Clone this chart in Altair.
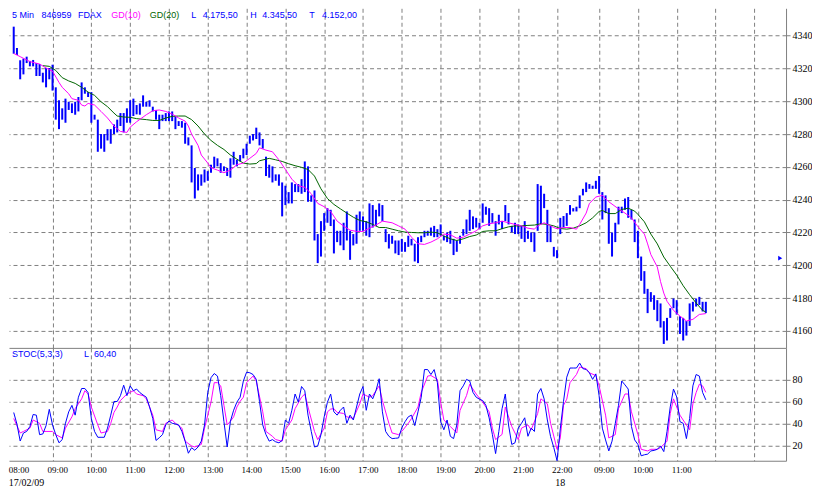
import altair as alt
import pandas as pd

# ---------------- data ----------------
high = [
    4345.5, 4332.5, 4325.0, 4326.0, 4327.2, 4324.6, 4325.2, 4323.3, 4322.7, 4317.4,
    4320.3, 4320.3, 4322.3, 4308.5, 4300.6, 4295.7, 4301.6, 4299.7, 4298.7, 4299.7,
    4302.6, 4311.5, 4308.5, 4305.6, 4305.6, 4291.8, 4288.8, 4280.0, 4280.0, 4283.0,
    4283.0, 4285.9, 4288.8, 4292.8, 4292.8, 4295.7, 4300.6, 4301.6, 4297.7, 4298.7,
    4303.6, 4299.7, 4300.6, 4296.7, 4294.7, 4291.8, 4291.8, 4292.8, 4293.8, 4293.8,
    4290.8, 4287.9, 4287.9, 4286.9, 4278.0, 4273.1, 4259.3, 4255.4, 4255.4, 4258.4,
    4257.4, 4261.3, 4266.2, 4265.2, 4262.3, 4260.3, 4259.3, 4265.2, 4269.2, 4264.3,
    4267.2, 4271.1, 4274.1, 4279.0, 4280.0, 4283.9, 4281.0, 4277.0, 4266.2, 4261.3,
    4260.3, 4255.4, 4255.4, 4250.5, 4248.5, 4244.6, 4250.5, 4249.5, 4249.5, 4252.5,
    4263.3, 4260.3, 4242.6, 4245.6, 4219.0, 4226.9, 4231.8, 4234.8, 4233.8, 4227.9,
    4221.0, 4221.0, 4225.9, 4232.8, 4221.0, 4219.0, 4230.8, 4232.8, 4229.8, 4226.9,
    4237.7, 4236.7, 4233.8, 4237.7, 4236.7, 4222.0, 4219.0, 4218.0, 4215.1, 4215.1,
    4216.1, 4214.1, 4218.0, 4216.1, 4213.1, 4217.1, 4218.0, 4221.0, 4221.0, 4223.0,
    4224.0, 4222.0, 4224.9, 4218.0, 4220.0, 4221.0, 4216.1, 4215.1, 4218.0, 4222.0,
    4227.9, 4233.8, 4229.8, 4228.9, 4225.9, 4237.7, 4235.7, 4234.8, 4231.8, 4226.9,
    4230.8, 4226.9, 4236.7, 4231.8, 4224.0, 4225.9, 4224.9, 4224.0, 4226.9, 4221.0,
    4220.0, 4220.0, 4249.5, 4248.5, 4243.6, 4233.8, 4224.0, 4211.2, 4209.2, 4228.9,
    4230.0, 4231.8, 4236.7, 4234.8, 4235.7, 4242.6, 4246.6, 4250.5, 4249.5, 4248.5,
    4251.5, 4254.4, 4244.6, 4242.6, 4234.8, 4220.0, 4225.9, 4235.7, 4235.7, 4240.7,
    4241.6, 4233.8, 4227.9, 4221.0, 4205.3, 4196.4, 4185.6, 4183.6, 4181.7, 4178.7,
    4176.7, 4165.9, 4167.9, 4173.8, 4179.7, 4178.7, 4168.9, 4167.9, 4166.0, 4176.7,
    4177.7, 4179.7, 4180.7, 4177.7, 4177.7,
]
low = [
    4329.0, 4328.2, 4313.4, 4316.4, 4323.3, 4321.3, 4321.3, 4315.4, 4315.4, 4311.5,
    4308.5, 4313.4, 4306.5, 4288.8, 4283.0, 4288.8, 4286.9, 4294.7, 4292.8, 4291.8,
    4293.8, 4300.6, 4304.6, 4302.6, 4286.9, 4288.8, 4269.2, 4271.1, 4269.2, 4276.1,
    4274.1, 4280.0, 4281.0, 4284.9, 4281.0, 4286.9, 4286.9, 4291.0, 4292.0, 4291.8,
    4296.7, 4296.7, 4296.7, 4293.8, 4288.8, 4283.0, 4287.9, 4287.9, 4287.9, 4287.9,
    4283.0, 4284.9, 4283.9, 4274.1, 4273.1, 4250.5, 4240.7, 4245.6, 4248.5, 4250.5,
    4251.5, 4256.4, 4259.3, 4260.3, 4256.4, 4257.4, 4254.4, 4253.4, 4261.3, 4260.3,
    4263.3, 4265.2, 4267.2, 4274.1, 4276.1, 4277.0, 4273.1, 4271.1, 4254.4, 4253.4,
    4250.5, 4251.5, 4248.5, 4229.8, 4236.7, 4237.7, 4237.7, 4244.6, 4244.6, 4243.6,
    4244.6, 4238.7, 4238.7, 4215.1, 4201.3, 4205.3, 4221.0, 4225.9, 4223.9, 4207.2,
    4214.1, 4212.1, 4209.2, 4215.1, 4203.3, 4212.1, 4213.1, 4221.0, 4221.0, 4218.0,
    4217.1, 4223.0, 4223.9, 4229.8, 4226.9, 4214.1, 4210.2, 4213.1, 4207.2, 4206.2,
    4208.2, 4208.2, 4211.2, 4212.1, 4202.3, 4201.3, 4214.1, 4217.1, 4218.0, 4218.0,
    4217.1, 4217.1, 4218.0, 4215.1, 4214.1, 4213.1, 4206.2, 4208.2, 4213.1, 4218.0,
    4219.0, 4221.0, 4222.0, 4223.0, 4222.0, 4225.9, 4230.8, 4224.0, 4225.9, 4218.0,
    4224.9, 4222.0, 4226.9, 4224.9, 4220.0, 4219.0, 4219.0, 4216.1, 4214.1, 4216.1,
    4214.1, 4208.2, 4221.0, 4225.0, 4234.8, 4214.1, 4214.1, 4205.3, 4204.3, 4219.0,
    4223.0, 4224.0, 4230.8, 4232.8, 4232.8, 4234.8, 4242.6, 4244.6, 4246.6, 4246.6,
    4246.6, 4243.6, 4227.9, 4231.8, 4213.1, 4205.3, 4214.1, 4224.9, 4231.8, 4233.8,
    4228.9, 4227.9, 4214.1, 4204.3, 4190.5, 4182.6, 4170.8, 4177.7, 4172.8, 4165.9,
    4162.0, 4152.0, 4154.1, 4167.9, 4173.8, 4169.9, 4158.1, 4154.1, 4157.1, 4163.0,
    4171.8, 4174.8, 4175.8, 4171.8, 4170.8,
]

# moving averages GD(10) and GD(20): (bar index, value)
gd10_idx = [0, 2, 5, 8, 10, 11, 12, 14, 15, 17, 18, 20, 21, 22, 23, 25, 27, 29, 31, 33,
            35, 36, 38, 41, 43, 45, 47, 49, 51, 53, 54, 55, 57, 58, 60, 61, 63, 65, 67, 69,
            71, 73, 75, 76, 78, 80, 82, 84, 86, 88, 90, 92, 94, 96, 98, 100, 102, 104, 106, 108,
            110, 112, 114, 117, 119, 121, 123, 125, 127, 129, 131, 133, 135, 137, 139, 141, 143, 145, 147, 149,
            151, 153, 155, 157, 159, 161, 162, 164, 166, 167, 168, 170, 172, 174, 175, 177, 178, 180, 182, 184,
            187, 189, 191, 193, 195, 196, 197, 199, 200, 201, 202, 204, 206, 208, 210, 212, 214]
gd10_val = [4329.2, 4327.2, 4324.2, 4322.7, 4320.3, 4319.3, 4318.4, 4311.5, 4308.5, 4304.6,
            4301.6, 4300.6, 4297.7, 4297.1, 4298.7, 4297.7, 4293.8, 4289.8, 4284.9, 4281.6,
            4281.0, 4284.2, 4287.5, 4291.8, 4294.2, 4294.7, 4293.8, 4292.2, 4289.8, 4287.9,
            4284.9, 4280.0, 4273.1, 4267.2, 4262.3, 4259.5, 4258.0, 4256.4, 4258.0, 4261.3,
            4262.3, 4265.2, 4268.2, 4271.6, 4270.2, 4269.2, 4264.3, 4258.4, 4252.5, 4248.5,
            4247.5, 4243.6, 4237.7, 4235.7, 4232.8, 4226.9, 4223.9, 4221.4, 4220.6, 4220.6,
            4222.6, 4224.5, 4226.9, 4225.9, 4224.0, 4222.0, 4217.1, 4213.1, 4212.7, 4214.1,
            4216.1, 4219.0, 4218.6, 4216.5, 4217.1, 4219.0, 4221.0, 4224.0, 4225.3, 4225.9,
            4226.9, 4225.9, 4224.9, 4224.0, 4222.6, 4222.0, 4224.0, 4225.9, 4224.0, 4223.0,
            4222.3, 4223.0, 4223.0, 4222.0, 4224.9, 4231.8, 4237.7, 4241.6, 4242.6, 4238.7,
            4234.4, 4231.8, 4228.9, 4223.5, 4219.0, 4213.0, 4206.5, 4198.9, 4190.0, 4183.0,
            4178.0, 4172.5, 4169.0, 4166.0, 4167.0, 4170.0, 4170.5]
gd20_idx = [9, 11, 13, 15, 17, 19, 21, 23, 25, 27, 29, 31, 32, 34, 36, 38, 41, 43, 45, 47,
            49, 51, 53, 55, 57, 59, 61, 63, 65, 67, 69, 71, 73, 75, 76, 79, 81, 83, 85, 87,
            89, 91, 93, 95, 97, 99, 101, 103, 105, 107, 109, 111, 113, 115, 117, 119, 121, 123, 125, 127,
            129, 131, 133, 135, 137, 139, 141, 143, 145, 147, 149, 151, 153, 155, 157, 159, 161, 163, 165, 167,
            169, 171, 173, 175, 177, 179, 181, 182, 184, 186, 188, 190, 192, 193, 195, 197, 199, 201, 203, 205,
            207, 209, 211, 213, 214]
gd20_val = [4321.7, 4321.3, 4318.8, 4314.4, 4312.4, 4310.9, 4308.5, 4305.6, 4303.6, 4299.7,
            4296.7, 4292.8, 4291.0, 4290.4, 4290.2, 4289.4, 4288.8, 4288.3, 4288.3, 4289.8,
            4290.8, 4291.0, 4291.0, 4288.8, 4284.9, 4280.0, 4276.1, 4273.1, 4270.6, 4267.2,
            4264.7, 4262.3, 4261.7, 4262.0, 4263.7, 4265.2, 4264.3, 4263.3, 4261.9, 4260.7,
            4259.7, 4258.4, 4254.4, 4246.6, 4240.7, 4237.1, 4234.4, 4231.8, 4229.3, 4227.3,
            4226.5, 4224.9, 4223.0, 4223.0, 4222.0, 4221.0, 4220.2, 4220.0, 4219.8, 4219.8,
            4220.2, 4219.8, 4217.8, 4216.1, 4215.1, 4216.1, 4217.5, 4218.4, 4220.6, 4221.0,
            4221.0, 4222.3, 4223.4, 4224.0, 4224.0, 4224.3, 4224.5, 4225.3, 4224.9, 4224.0,
            4222.4, 4222.0, 4222.6, 4224.0, 4225.9, 4228.9, 4232.8, 4233.4, 4231.5, 4231.5,
            4234.0, 4234.8, 4233.0, 4231.0, 4226.5, 4219.0, 4213.0, 4205.0, 4199.4, 4194.0,
            4187.5, 4182.0, 4177.0, 4172.5, 4171.5]

# stochastic %K (blue) and %D (magenta): (bar index, value)
stk_idx = list(range(215))
stk_val = [
    49.9, 39.3, 24.0, 31.3, 32.7, 37.2, 48.1, 47.5, 29.8, 30.4,
    38.0, 52.8, 38.6, 29.8, 22.4, 25.3, 40.1, 50.5, 56.4, 47.5,
    63.8, 71.7, 71.7, 68.0, 44.5, 32.7, 27.4, 27.4, 27.4, 35.7,
    47.5, 59.9, 59.9, 65.2, 74.7, 65.2, 74.1, 69.7, 71.2, 68.0,
    65.8, 63.8, 55.0, 44.5, 24.5, 27.0, 29.8, 38.6, 42.2, 40.1,
    39.5, 38.6, 32.7, 23.9, 12.9, 17.9, 15.6, 18.6, 23.9, 38.6,
    68.2, 81.5, 85.3, 83.0, 65.2, 41.6, 18.6, 42.0, 52.0, 59.3,
    63.8, 78.5, 86.5, 86.0, 84.4, 80.0, 60.0, 38.6, 29.8, 23.9,
    25.3, 23.3, 22.4, 24.5, 43.1, 40.1, 51.9, 66.7, 59.3, 73.5,
    69.7, 47.5, 32.7, 18.6, 19.5, 29.8, 46.0, 59.3, 66.7, 50.5,
    47.5, 51.9, 54.9, 40.1, 47.5, 43.1, 54.9, 66.7, 73.5, 51.9,
    66.7, 62.3, 69.7, 80.6, 50.5, 32.7, 28.3, 26.2, 26.5, 26.8,
    36.0, 41.6, 46.0, 47.5, 38.0, 50.5, 63.8, 88.9, 88.9, 84.4,
    88.9, 77.0, 41.6, 34.2, 43.1, 28.3, 26.2, 38.6, 69.7, 74.1,
    80.0, 78.5, 68.2, 63.8, 62.0, 60.8, 56.4, 45.0, 30.0, 12.6,
    32.7, 53.4, 66.7, 38.6, 20.9, 22.4, 35.7, 40.0, 45.1, 28.3,
    35.7, 32.7, 66.7, 71.7, 62.3, 43.1, 28.0, 18.0, 6.1, 35.0,
    60.0, 82.0, 90.3, 90.3, 90.3, 94.8, 89.7, 89.0, 86.0, 80.0,
    85.0, 65.2, 35.7, 25.0, 15.0, 23.9, 40.0, 56.4, 78.5, 75.0,
    71.2, 37.2, 25.0, 20.9, 10.6, 11.5, 12.1, 15.0, 15.5, 16.5,
    19.5, 14.4, 32.7, 55.0, 71.2, 64.0, 41.6, 40.1, 26.2, 44.5,
    74.1, 84.4, 83.0, 68.2, 61.4,
]
std_idx = [0, 2, 3, 5, 6, 8, 9, 10, 12, 13, 15, 16, 18, 19, 21, 22, 23, 24, 26, 27,
           29, 30, 31, 32, 33, 35, 37, 38, 40, 41, 43, 44, 46, 47, 49, 50, 52, 53, 55, 56,
           58, 59, 61, 62, 63, 64, 65, 66, 67, 68, 69, 70, 71, 72, 74, 75, 77, 78, 80, 81,
           83, 84, 86, 87, 89, 90, 91, 93, 94, 96, 97, 98, 99, 100, 102, 103, 105, 107, 108, 110,
           111, 113, 114, 116, 117, 119, 120, 122, 123, 125, 126, 128, 129, 131, 132, 133, 135, 137, 138, 140,
           141, 143, 145, 147, 148, 149, 151, 152, 154, 156, 157, 159, 160, 162, 163, 165, 166, 168, 169, 170,
           171, 172, 174, 175, 177, 178, 180, 181, 183, 184, 186, 187, 189, 190, 191, 193, 194, 196, 197, 199,
           200, 202, 203, 204, 206, 208, 209, 210, 211, 212, 213, 214]
std_val = [44.5, 31.3, 32.7, 35.7, 43.1, 40.1, 32.7, 32.7, 32.7, 29.8, 26.8, 35.7, 46.0, 53.4, 62.3, 69.7, 66.7, 54.9, 38.6, 31.3,
           32.7, 40.0, 50.0, 54.9, 60.8, 66.7, 69.7, 66.7, 65.2, 62.3, 47.5, 34.2, 32.7, 40.1, 43.1, 40.1, 35.7, 23.9, 19.5, 18.6,
           20.9, 35.7, 59.3, 77.0, 77.0, 74.1, 56.4, 38.6, 42.0, 46.0, 54.9, 60.0, 63.8, 77.0, 83.0, 78.5, 50.5, 32.7, 28.3, 25.3,
           23.9, 34.2, 43.1, 53.4, 63.8, 66.7, 54.9, 32.7, 25.3, 35.7, 50.5, 53.0, 53.4, 50.0, 49.0, 46.0, 44.5, 57.8, 66.7, 63.8,
           65.2, 74.1, 60.8, 40.1, 31.3, 29.8, 32.7, 40.1, 44.5, 54.9, 68.2, 83.0, 83.5, 80.0, 59.3, 43.1, 37.2, 31.3, 51.9, 65.2,
           75.6, 66.7, 59.3, 50.5, 35.7, 25.3, 30.0, 54.9, 37.2, 25.3, 35.7, 38.6, 34.2, 49.0, 62.3, 57.8, 40.1, 16.5, 26.8, 56.4,
           62.0, 77.0, 84.4, 91.2, 89.7, 85.9, 83.5, 74.1, 47.5, 26.8, 29.8, 53.4, 66.7, 66.7, 50.5, 29.8, 16.5, 15.0, 16.5, 16.5,
           18.0, 23.9, 49.0, 62.3, 47.5, 38.6, 34.2, 57.8, 68.0, 75.6, 74.1, 68.2]

# axis ticks and labels
price_ticks = [4160, 4180, 4200, 4220, 4240, 4260, 4280, 4300, 4320, 4340]
stoch_ticks = [20, 40, 60, 80]
grid_idx = [12, 24, 36, 48, 60, 72, 84, 96, 108, 120, 132, 144, 156, 168, 181, 193, 205, 217, 229]
hour_idx = [0, 12, 24, 36, 48, 60, 72, 84, 96, 108, 120, 132, 144, 156, 168, 181, 193, 205]
hour_lbl = ["08:00", "09:00", "10:00", "11:00", "12:00", "13:00", "14:00", "15:00", "16:00",
            "17:00", "18:00", "19:00", "20:00", "21:00", "22:00", "09:00", "10:00", "11:00"]
date_idx = [0, 169]
date_lbl = ["17/02/09", "18"]
marker_idx = [237]
marker_val = [4204.3]

# ---------------- chart ----------------
W, HP, HS = 778, 340, 113
XDOM = [-1.46, 238.8]
PDOM = [4149.6, 4356.7]
SDOM = [6.1, 108.6]
GRAY = "#808080"
BLUE = "#0000FF"
MAG = "#FF00FF"
GREEN = "#006400"
DASH = [4, 3]

xs = alt.Scale(domain=XDOM, nice=False, zero=False)
x_axis = alt.Axis(values=grid_idx, grid=True, gridDash=DASH, gridColor=GRAY, gridOpacity=1,
                  labels=False, ticks=False, domain=True, domainColor=GRAY, title=None)


def xenc():
    return alt.X("i:Q", scale=xs, axis=x_axis)


def yenc(field, dom, ticks):
    return alt.Y(field, scale=alt.Scale(domain=dom, nice=False, zero=False),
                 axis=alt.Axis(orient="right", values=ticks, grid=True, gridDash=DASH,
                               gridColor=GRAY, gridOpacity=1, domainColor=GRAY,
                               tickColor=GRAY, tickSize=4, labelFont="Liberation Serif",
                               labelFontSize=10, labelColor="black", labelPadding=2,
                               format="d", title=None))


def label(text, px, py, color, size=9):
    return alt.Chart(pd.DataFrame({"t": [text]})).mark_text(
        align="left", baseline="middle", color=color, font="Liberation Sans", fontSize=size
    ).encode(x=alt.value(px), y=alt.value(py), text="t:N")


bars_df = pd.DataFrame({"i": list(range(len(high))), "hi": high, "lo": low})
gd10_df = pd.DataFrame({"i": gd10_idx, "v": gd10_val})
gd20_df = pd.DataFrame({"i": gd20_idx, "v": gd20_val})
stk_df = pd.DataFrame({"i": stk_idx, "v": stk_val})
std_df = pd.DataFrame({"i": std_idx, "v": std_val})

bars = alt.Chart(bars_df).mark_rule(color=BLUE, strokeWidth=2).encode(
    x=xenc(), y=yenc("lo:Q", PDOM, price_ticks), y2="hi:Q")
gd20 = alt.Chart(gd20_df).mark_line(color=GREEN, strokeWidth=1).encode(
    x=xenc(), y=yenc("v:Q", PDOM, price_ticks))
gd10 = alt.Chart(gd10_df).mark_line(color=MAG, strokeWidth=1).encode(
    x=xenc(), y=yenc("v:Q", PDOM, price_ticks))
marker = alt.Chart(pd.DataFrame({"i": marker_idx, "v": marker_val})).mark_point(
    shape="triangle-right", filled=True, size=22, color=BLUE, opacity=1).encode(
    x=xenc(), y=yenc("v:Q", PDOM, price_ticks))

hy = 7
price = alt.layer(
    bars, gd20, gd10, marker,
    label("5 Min", 3, hy, BLUE), label("846959", 32.5, hy, BLUE), label("FDAX", 69, hy, BLUE),
    label("GD(10)", 102.5, hy, MAG), label("GD(20)", 141, hy, GREEN),
    label("L", 182.5, hy, BLUE), label("4.175,50", 194, hy, BLUE),
    label("H", 241.5, hy, BLUE), label("4.345,50", 253.5, hy, BLUE),
    label("T", 300.5, hy, BLUE), label("4.152,00", 313.5, hy, BLUE),
).properties(width=W, height=HP)

std = alt.Chart(std_df).mark_line(color=MAG, strokeWidth=1).encode(
    x=xenc(), y=yenc("v:Q", SDOM, stoch_ticks))
stk = alt.Chart(stk_df).mark_line(color=BLUE, strokeWidth=1).encode(
    x=xenc(), y=yenc("v:Q", SDOM, stoch_ticks))
hours = alt.Chart(pd.DataFrame({"i": hour_idx, "t": hour_lbl})).mark_text(
    align="left", baseline="middle", dx=-5, font="Liberation Serif", fontSize=9, color="black"
).encode(x=xenc(), y=alt.value(HS + 9), text="t:N")
dates = alt.Chart(pd.DataFrame({"i": date_idx, "t": date_lbl})).mark_text(
    align="left", baseline="middle", dx=-5, font="Liberation Serif", fontSize=10, color="black"
).encode(x=xenc(), y=alt.value(HS + 22), text="t:N")

stoch = alt.layer(
    std, stk, hours, dates,
    label("STOC(5,3,3)", 3, 6, BLUE), label("L", 75, 6, BLUE), label("60,40", 85, 6, BLUE),
).properties(width=W, height=HS)

chart = alt.vconcat(price, stoch, spacing=0).properties(
    padding=0, background="white"
).configure_view(stroke=None)

chart.save("out.html", embed_options={"renderer": "svg", "actions": False})
